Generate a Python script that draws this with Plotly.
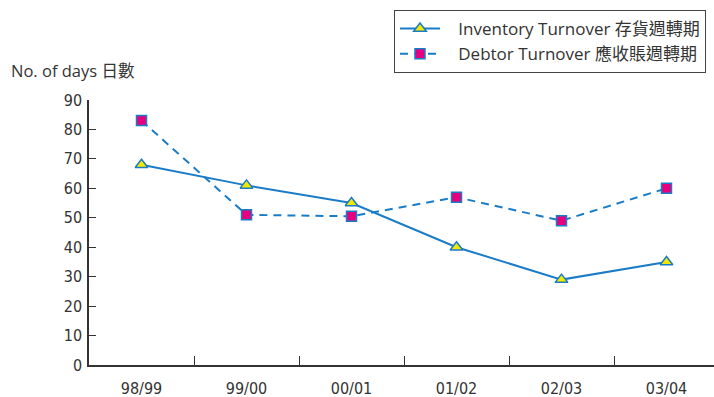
import plotly.graph_objects as go

# Financial years on the category axis
years = ["98/99", "99/00", "00/01", "01/02", "02/03", "03/04"]
# Number of days
inventory_turnover = [68, 61, 55, 40, 29, 35]
debtor_turnover = [83, 51, 50.5, 57, 49, 60]

y_ticks = [0, 10, 20, 30, 40, 50, 60, 70, 80, 90]

BLUE = "#1a7cc7"
TEXT = "#333333"
FONT = "Open Sans, Noto Sans CJK TC, sans-serif"
TICK_FONT = "Liberation Sans Narrow, DejaVu Sans Condensed, Open Sans, Noto Sans CJK TC"
PAD = "\u00a0\u00a0\u00a0"  # extra space between legend symbol and label

fig = go.Figure()
fig.add_trace(go.Scatter(
    x=years, y=inventory_turnover, mode="lines+markers",
    name=PAD + "Inventory Turnover 存貨週轉期",
    line=dict(color=BLUE, width=2),
    marker=dict(symbol="triangle-up", size=11, color="#f5e800",
                line=dict(color=BLUE, width=1.5)),
))
fig.add_trace(go.Scatter(
    x=years, y=debtor_turnover, mode="lines+markers",
    name=PAD + "Debtor Turnover 應收賬週轉期",
    line=dict(color=BLUE, width=2, dash="8px,6px"),
    marker=dict(symbol="square", size=10, color="#e6007e",
                line=dict(color=BLUE, width=1.5)),
))

fig.update_layout(
    width=714, height=397,
    margin=dict(l=89, r=0, t=100, b=32),
    paper_bgcolor="white", plot_bgcolor="white",
    showlegend=True,
    legend=dict(
        x=(394 - 89) / 625, y=(365 - 10) / 265, xanchor="left", yanchor="top",
        bordercolor="#444444", borderwidth=1, bgcolor="white",
        font=dict(family=FONT, size=17, color=TEXT),
        tracegroupgap=0, itemwidth=40,
    ),
    font=dict(family=FONT, color=TEXT),
)

fig.update_xaxes(
    type="category", range=[-0.5, -0.5 + 625 / 105], automargin=False,
    tickson="boundaries", ticks="inside", ticklen=9, tickcolor=TEXT, tickwidth=1,
    showline=True, linecolor=TEXT, linewidth=1.5, showgrid=False, zeroline=False,
    tickfont=dict(family=TICK_FONT, size=16, color=TEXT),
    ticklabelstandoff=8,
)
fig.update_yaxes(
    range=[0, 90], tickvals=y_ticks, automargin=False,
    ticks="inside", ticklen=7, tickcolor=TEXT, tickwidth=1,
    showline=True, linecolor=TEXT, linewidth=1.5, showgrid=False, zeroline=False,
    tickfont=dict(family=TICK_FONT, size=16, color=TEXT),
    ticklabelstandoff=2,
)

fig.add_annotation(
    text="No. of days 日數", xref="paper", yref="paper",
    x=-(89 - 9) / 625, y=(365 - 70) / 265, xanchor="left", yanchor="middle",
    showarrow=False, font=dict(family=FONT, size=16.5, color=TEXT),
)

fig.write_html("out.html")
